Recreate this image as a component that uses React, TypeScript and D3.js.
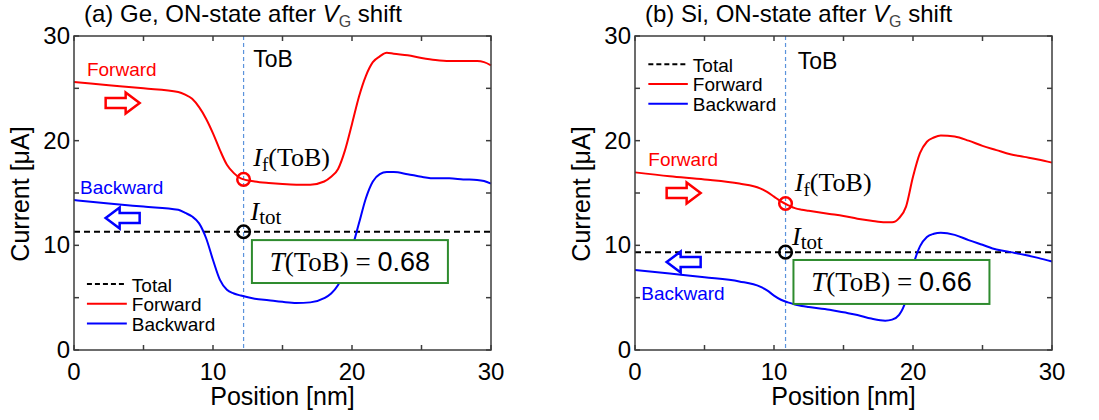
import * as d3 from 'd3';

// Ge panel (a)
const gePos = [0, 2.5, 5, 7.5, 8, 8.5, 9, 9.5, 10, 10.5, 11, 11.5, 12, 13, 14, 15, 16, 17, 18, 18.5, 19, 19.5, 20, 20.5, 21, 21.5, 22, 22.5, 23, 24, 25, 26, 27, 28, 29, 29.5, 30];
const geForward = [25.6, 25.3, 25.0, 24.65, 24.4, 24.0, 23.2, 22.1, 20.7, 19.1, 17.7, 16.9, 16.4, 16.1, 15.95, 15.85, 15.8, 15.8, 16.1, 16.55, 17.3, 19.1, 21.6, 24.2, 26.2, 27.5, 28.05, 28.4, 28.3, 28.15, 27.9, 27.7, 27.6, 27.6, 27.6, 27.5, 27.2];
const geBackward = [14.33, 14.0, 13.7, 13.4, 13.1, 12.75, 12.1, 10.7, 8.6, 6.7, 5.75, 5.4, 5.2, 4.9, 4.75, 4.6, 4.5, 4.55, 4.95, 5.4, 6.2, 7.65, 9.7, 12.1, 14.5, 16.1, 16.8, 17.0, 17.0, 16.8, 16.55, 16.4, 16.4, 16.3, 16.25, 16.15, 15.9];
const geTotal = 11.3;
const geToB = 12.2;
const geIfToB = 16.3;
const geT = '0.68';

// Si panel (b)
const siPos = [0, 2.5, 5, 7.5, 9, 9.5, 10, 10.5, 11, 11.5, 12, 12.5, 14, 15, 16, 17, 18, 18.5, 19, 19.5, 20, 20.5, 21, 21.5, 22, 23, 24, 25, 26, 27, 28, 29, 30];
const siForward = [16.97, 16.6, 16.3, 15.9, 15.45, 15.1, 14.65, 14.2, 13.85, 13.55, 13.4, 13.3, 13.0, 12.8, 12.55, 12.35, 12.2, 12.2, 12.6, 13.7, 16.55, 18.8, 19.9, 20.3, 20.5, 20.4, 20.0, 19.5, 19.1, 18.7, 18.45, 18.2, 17.9];
const siBackward = [7.65, 7.3, 6.95, 6.55, 6.05, 5.7, 5.2, 4.8, 4.55, 4.35, 4.2, 4.1, 3.85, 3.6, 3.35, 3.0, 2.8, 2.9, 3.35, 4.8, 8.0, 9.9, 10.8, 11.1, 11.2, 11.0, 10.5, 10.05, 9.6, 9.35, 9.1, 8.8, 8.45];
const siTotal = 9.35;
const siToB = 10.83;
const siIfToB = 14.0;
const siT = '0.66';

const xTicks = [0, 10, 20, 30];
const yTicks = [0, 10, 20, 30];
const minorTicks = [0, 5, 10, 15, 20, 25, 30];
const legendLabels = ['Total', 'Forward', 'Backward'];

const SANS = "'Liberation Sans', Arial, sans-serif";
const SERIF = "'Liberation Serif', 'Times New Roman', serif";
const RED = '#ff0000';
const BLUE = '#0000ff';
const GREEN = '#2e8b2e';
const FRAME = '#3c3c3c';

function Arrow({ cx, cy, dir, color }) {
  const pts = [[-17, -5], [3, -5], [3, -10.5], [17, 0], [3, 10.5], [3, 5], [-17, 5]]
    .map(([px, py]) => `${cx + px * dir},${cy + py}`).join(' ');
  return <polygon points={pts} fill="#fff" stroke={color} strokeWidth={2.5} />;
}

function Panel({ left, label, material, pos, fwd, bwd, total, tob, ifVal, tVal, lay }) {
  const top = 36, bottom = 350, right = left + 417;
  const x = d3.scaleLinear().domain([0, 30]).range([left, right]);
  const y = d3.scaleLinear().domain([0, 30]).range([bottom, top]);
  const line = d3.line<number>().x((_, i) => x(pos[i])).y(d => y(d)).curve(d3.curveMonotoneX);

  return (
    <g>
      <text x={left + 10} y={22} fontFamily={SANS} fontSize={24} fill="#000">
        {`(${label}) ${material}, ON-state after `}
        <tspan fontStyle="italic">V</tspan>
        <tspan fontSize={16} dy={5} fill="#444">G</tspan>
        <tspan dy={-5}> shift</tspan>
      </text>

      {/* ToB line */}
      <line x1={x(tob)} x2={x(tob)} y1={top} y2={bottom} stroke="#5b93dc" strokeWidth={1.2} strokeDasharray="4,3" />

      {/* total */}
      <line x1={x(0)} x2={x(30)} y1={y(total)} y2={y(total)} stroke="#000" strokeWidth={2} strokeDasharray="6,4" />
      <path d={line(fwd)} fill="none" stroke={RED} strokeWidth={2} />
      <path d={line(bwd)} fill="none" stroke={BLUE} strokeWidth={2} />

      {/* frame + ticks */}
      <rect x={left} y={top} width={right - left} height={bottom - top} fill="none" stroke={FRAME} strokeWidth={1.5} />
      {minorTicks.map(t => (
        <g key={'t' + t} stroke={FRAME} strokeWidth={1.5}>
          <line x1={x(t)} x2={x(t)} y1={bottom} y2={bottom - 5} />
          <line x1={x(t)} x2={x(t)} y1={top} y2={top + 5} />
          <line x1={left} x2={left + 5} y1={y(t)} y2={y(t)} />
          <line x1={right} x2={right - 5} y1={y(t)} y2={y(t)} />
        </g>
      ))}
      {xTicks.map(t => (
        <text key={'x' + t} x={x(t)} y={380} textAnchor="middle" fontFamily={SANS} fontSize={24}>{t}</text>
      ))}
      {yTicks.map(t => (
        <text key={'y' + t} x={left - 4} y={y(t) + 8} textAnchor="end" fontFamily={SANS} fontSize={24}>{t}</text>
      ))}
      <text x={(left + right) / 2} y={405} textAnchor="middle" fontFamily={SANS} fontSize={25}>Position [nm]</text>
      <text transform={`translate(${left - 45},194) rotate(-90)`} textAnchor="middle" fontFamily={SANS} fontSize={25}>Current [μA]</text>

      {/* annotations */}
      <text x={x(lay.tobLabel[0])} y={y(lay.tobLabel[1])} fontFamily={SANS} fontSize={23}>ToB</text>
      <text x={x(lay.fwdLabel[0])} y={y(lay.fwdLabel[1])} fontFamily={SANS} fontSize={19} fill={RED}>Forward</text>
      <text x={x(lay.bwdLabel[0])} y={y(lay.bwdLabel[1])} fontFamily={SANS} fontSize={19} fill={BLUE}>Backward</text>
      <Arrow cx={x(lay.fwdArrow[0])} cy={y(lay.fwdArrow[1])} dir={1} color={RED} />
      <Arrow cx={x(lay.bwdArrow[0])} cy={y(lay.bwdArrow[1])} dir={-1} color={BLUE} />

      <circle cx={x(tob)} cy={y(ifVal)} r={6.3} fill="none" stroke={RED} strokeWidth={2.5} />
      <circle cx={x(tob)} cy={y(total)} r={6.3} fill="none" stroke="#000" strokeWidth={2.5} />

      <text x={x(lay.ifLabel[0])} y={y(lay.ifLabel[1])} fontFamily={SERIF} fontSize={26}>
        <tspan fontStyle="italic">I</tspan>
        <tspan fontSize={19} dy={5}>f</tspan>
        <tspan dy={-5}>(ToB)</tspan>
      </text>
      <text x={x(lay.itotLabel[0])} y={y(lay.itotLabel[1])} fontFamily={SERIF} fontSize={26}>
        <tspan fontStyle="italic">I</tspan>
        <tspan fontSize={21} dy={4}>tot</tspan>
      </text>

      <rect x={x(lay.box[0])} y={y(lay.box[3])} width={x(lay.box[1]) - x(lay.box[0])} height={y(lay.box[2]) - y(lay.box[3])}
        fill="#fff" stroke={GREEN} strokeWidth={2} />
      <text x={(x(lay.box[0]) + x(lay.box[1])) / 2} y={(y(lay.box[2]) + y(lay.box[3])) / 2 + 9} textAnchor="middle" fontFamily={SERIF} fontSize={27}>
        <tspan fontStyle="italic">T</tspan>
        <tspan>(ToB) = </tspan>
        <tspan fontFamily={SANS}>{tVal}</tspan>
      </text>

      {/* legend */}
      {legendLabels.map((lbl, i) => {
        const ly = y(lay.legendY) + i * 19.7;
        const stroke = i === 0 ? '#000' : i === 1 ? RED : BLUE;
        return (
          <g key={lbl}>
            <line x1={x(lay.legendX[0])} x2={x(lay.legendX[1])} y1={ly} y2={ly} stroke={stroke} strokeWidth={2}
              strokeDasharray={i === 0 ? '5,3' : undefined} />
            <text x={x(lay.legendX[1]) + 5} y={ly + 7.5} fontFamily={SANS} fontSize={19}>{lbl}</text>
          </g>
        );
      })}
    </g>
  );
}

const geLayout = {
  tobLabel: [12.9, 27.0], fwdLabel: [0.93, 26.2], bwdLabel: [0.43, 14.9],
  fwdArrow: [3.5, 23.6], bwdArrow: [3.5, 12.6], ifLabel: [12.9, 17.6], itotLabel: [12.7, 12.4],
  box: [12.8, 26.9, 6.4, 10.5], legendX: [0.93, 3.8], legendY: 6.3,
};
const siLayout = {
  tobLabel: [11.7, 26.8], fwdLabel: [0.96, 17.6], bwdLabel: [0.45, 4.8],
  fwdArrow: [3.5, 15.0], bwdArrow: [3.5, 8.4], ifLabel: [11.5, 15.2], itotLabel: [11.3, 10.0],
  box: [11.4, 25.5, 4.4, 8.6], legendX: [0.96, 3.8], legendY: 27.3,
};

export default function App() {
  return (
    <svg width={1099} height={420} style={{ position: 'absolute', left: 0, top: 0, background: '#fff' }}>
      <Panel left={74} label="a" material="Ge" pos={gePos} fwd={geForward} bwd={geBackward}
        total={geTotal} tob={geToB} ifVal={geIfToB} tVal={geT} lay={geLayout} />
      <Panel left={635} label="b" material="Si" pos={siPos} fwd={siForward} bwd={siBackward}
        total={siTotal} tob={siToB} ifVal={siIfToB} tVal={siT} lay={siLayout} />
    </svg>
  );
}
